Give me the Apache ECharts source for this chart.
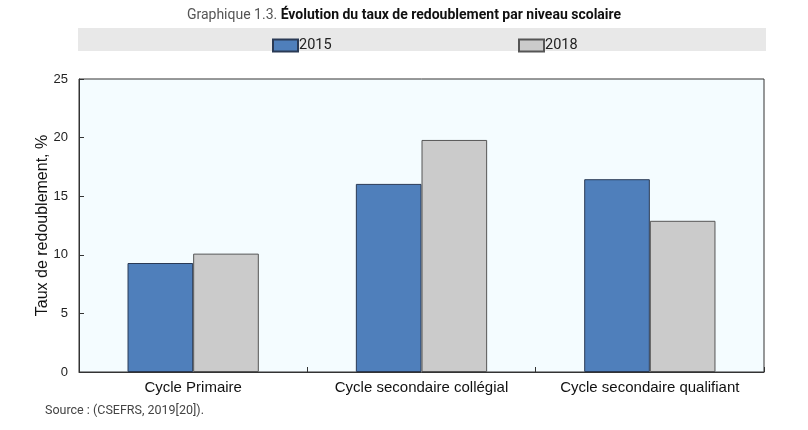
<!DOCTYPE html>
<html>
<head>
<meta charset="utf-8">
<script src="https://cdn.jsdelivr.net/npm/echarts@6/dist/echarts.min.js"></script>
<style>
  html, body { margin: 0; padding: 0; background: #fff; }
  #main { width: 808px; height: 430px; }
</style>
</head>
<body>
<div id="main"></div>
<script>
var categories = ['Cycle Primaire', 'Cycle secondaire collégial', 'Cycle secondaire qualifiant'];
var values2015 = [9.3, 16.05, 16.45];
var values2018 = [10.1, 19.8, 12.9];
var yTicks = [0, 5, 10, 15, 20, 25];

var narrow = '"Liberation Sans Narrow", "Roboto", sans-serif';
var sans = '"Liberation Sans", Arial, sans-serif';
var chart = echarts.init(document.getElementById('main'));

chart.setOption({
  animation: false,
  backgroundColor: '#fff',
  title: {
    text: '{a|Graphique 1.3. }{b|Évolution du taux de redoublement par niveau scolaire}',
    left: 'center',
    top: 3,
    textStyle: {
      fontWeight: 'normal',
      rich: {
        a: { fontFamily: narrow, fontSize: 14, fontWeight: 'normal', color: '#555' },
        b: { fontFamily: narrow, fontSize: 14, fontWeight: 'bold', color: '#111' }
      }
    }
  },
  graphic: [
    { type: 'rect', left: 78, top: 28, shape: { width: 688, height: 23 }, style: { fill: '#e8e8e8' }, z: -1 },
    { type: 'text', left: 45, top: 404, style: { text: 'Source : (CSEFRS, 2019[20]).', font: '12.5px ' + narrow, fill: '#444' } }
  ],
  legend: [
    { data: ['2015'], left: 267, top: 33, icon: 'rect', itemWidth: 25, itemHeight: 12, itemGap: 2,
      textStyle: { fontFamily: narrow, fontSize: 14.5, color: '#222', padding: [0, 0, 0, -4] } },
    { data: ['2018'], left: 513, top: 33, icon: 'rect', itemWidth: 25, itemHeight: 12, itemGap: 2,
      textStyle: { fontFamily: narrow, fontSize: 14.5, color: '#222', padding: [0, 0, 0, -4] } }
  ],
  grid: {
    left: 79, right: 44, top: 79, bottom: 58,
    show: true, backgroundColor: '#f4fcff', borderColor: '#333', borderWidth: 1
  },
  xAxis: {
    type: 'category',
    data: categories,
    axisLine: { lineStyle: { color: '#333' } },
    axisTick: { show: true, inside: true, length: 5, lineStyle: { color: '#333' } },
    axisLabel: { interval: 0, fontFamily: sans, fontSize: 15, color: '#111', margin: 8 }
  },
  yAxis: {
    type: 'value',
    min: 0, max: 25, interval: 5,
    name: 'Taux de redoublement, %',
    nameLocation: 'middle',
    nameGap: 28,
    nameMoveOverlap: false,
    nameTextStyle: { fontFamily: sans, fontSize: 16, color: '#111' },
    axisLine: { show: true, lineStyle: { color: '#333' } },
    axisTick: { show: true, inside: true, length: 5, lineStyle: { color: '#333' } },
    splitLine: { show: false },
    axisLabel: {
      fontFamily: sans, fontSize: 13, color: '#222', margin: 11,
      formatter: function (v) { return yTicks.indexOf(v) >= 0 ? String(v) : ''; }
    }
  },
  series: [
    {
      name: '2015', type: 'bar', data: values2015,
      barGap: '0%', barCategoryGap: '42.5%',
      itemStyle: { color: '#4f7fbb', borderColor: '#2a3a55', borderWidth: 1 }
    },
    {
      name: '2018', type: 'bar', data: values2018,
      itemStyle: { color: '#cbcbcb', borderColor: '#555', borderWidth: 1 }
    }
  ]
});
</script>
</body>
</html>
